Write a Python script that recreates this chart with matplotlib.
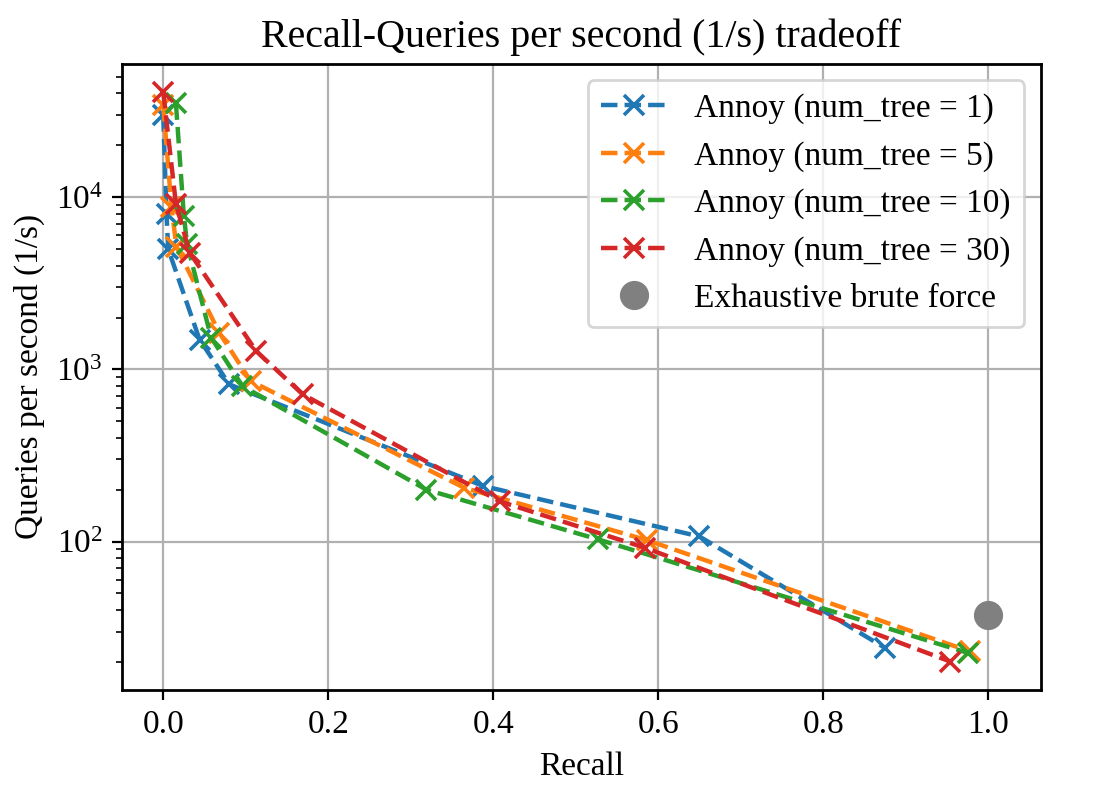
import matplotlib
matplotlib.use("Agg")
import matplotlib.pyplot as plt

plt.rcParams['font.family'] = ['Liberation Serif', 'DejaVu Serif']
plt.rcParams['mathtext.fontset'] = 'stix'
plt.rcParams['font.size'] = 12

labels = ["Annoy (num_tree = 1)", "Annoy (num_tree = 5)",
          "Annoy (num_tree = 10)", "Annoy (num_tree = 30)"]
colors = ["#1f77b4", "#ff7f0e", "#2ca02c", "#d62728"]

recall_t1 = [0.0, 0.004, 0.006, 0.044, 0.080, 0.388, 0.650, 0.875]
qps_t1 = [29900, 8000, 5000, 1490, 818, 210, 107, 24.1]

recall_t5 = [0.0, 0.010, 0.016, 0.068, 0.106, 0.365, 0.586, 0.978]
qps_t5 = [34200, 8750, 5150, 1630, 855, 205, 102, 23.0]

recall_t10 = [0.0154, 0.025, 0.029, 0.058, 0.096, 0.319, 0.527, 0.976]
qps_t10 = [35000, 7790, 5330, 1530, 800, 200, 103, 22.5]

recall_t30 = [0.0, 0.0154, 0.032, 0.1125, 0.169, 0.408, 0.584, 0.954]
qps_t30 = [40800, 9100, 4770, 1280, 716, 171, 92, 20.1]

brute_recall = [1.0]
brute_qps = [37.2]

series = [(recall_t1, qps_t1), (recall_t5, qps_t5),
          (recall_t10, qps_t10), (recall_t30, qps_t30)]

fig = plt.figure(figsize=(5.48, 3.97), dpi=200)
ax = fig.add_axes([0.1113, 0.131, 0.9498 - 0.1113, 0.920 - 0.131])

for (x, y), lab, c in zip(series, labels, colors):
    ax.plot(x, y, linestyle='--', marker='x', color=c, label=lab,
            linewidth=1.6, markersize=7, markeredgewidth=1.3)
ax.plot(brute_recall, brute_qps, linestyle='none', marker='o', color='gray',
        markersize=9.5, label="Exhaustive brute force")

ax.set_yscale('log')
ax.set_xlim(-0.050, 1.064)
ax.grid(True, which='major', color='#b0b0b0', linewidth=0.8)
ax.set_axisbelow(True)
for s in ax.spines.values():
    s.set_linewidth(1.0)

ax.set_xlabel("Recall")
ax.set_ylabel("Queries per second (1/s)")
ax.set_title("Recall-Queries per second (1/s) tradeoff", fontsize=14.4)
ax.legend(loc='upper right', framealpha=0.8)

fig.savefig("out.png", dpi=200)
